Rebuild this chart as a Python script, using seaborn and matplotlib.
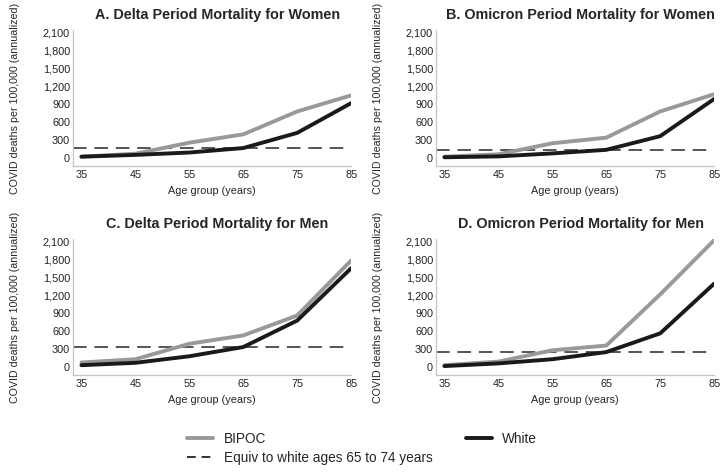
import pandas as pd
import numpy as np
import matplotlib
matplotlib.use("Agg")
import matplotlib.pyplot as plt
import seaborn as sns
from matplotlib.lines import Line2D

ages = [35, 45, 55, 65, 75, 85]

# deaths per 100,000 (annualized)
delta_women_bipoc = [20, 70, 255, 395, 780, 1050]
delta_women_white = [20, 50, 90, 165, 420, 920]
delta_women_equiv = 170

omicron_women_bipoc = [20, 60, 245, 340, 780, 1070]
omicron_women_white = [10, 25, 75, 135, 365, 990]
omicron_women_equiv = 130

delta_men_bipoc = [75, 130, 390, 530, 865, 1790]
delta_men_white = [30, 70, 180, 335, 780, 1660]
delta_men_equiv = 340

omicron_men_bipoc = [30, 90, 280, 360, 1220, 2130]
omicron_men_white = [15, 60, 130, 250, 565, 1400]
omicron_men_equiv = 255

titles = ["A. Delta Period Mortality for Women",
          "B. Omicron Period Mortality for Women",
          "C. Delta Period Mortality for Men",
          "D. Omicron Period Mortality for Men"]
yticks = [0, 300, 600, 900, 1200, 1500, 1800, 2100]

panels = [
    (delta_women_bipoc, delta_women_white, delta_women_equiv),
    (omicron_women_bipoc, omicron_women_white, omicron_women_equiv),
    (delta_men_bipoc, delta_men_white, delta_men_equiv),
    (omicron_men_bipoc, omicron_men_white, omicron_men_equiv),
]

sns.set_style("white")
plt.rcParams['font.family'] = ['Liberation Sans', 'DejaVu Sans']

gray = "#999999"
black = "#1a1a1a"
spine_col = "#c4c4c4"

fig, axes = plt.subplots(2, 2, figsize=(7.28, 4.72), dpi=100,
                         gridspec_kw=dict(left=0.100, right=0.981, top=0.936, bottom=0.2055,
                                          wspace=0.304, hspace=0.541))

for ax, title, (bipoc, white, equiv) in zip(axes.flat, titles, panels):
    df = pd.DataFrame({"Age": ages * 2,
                       "Deaths": bipoc + white,
                       "Group": ["BIPOC"] * len(ages) + ["White"] * len(ages)})
    ax.axhline(equiv, color="#555555", lw=1.4, dashes=(7, 4), zorder=1)
    sns.lineplot(data=df, x="Age", y="Deaths", hue="Group",
                 palette={"BIPOC": gray, "White": black},
                 lw=2.8, ax=ax, legend=False, zorder=3)
    ax.set_xlim(33.4, 85)
    ax.set_ylim(-135, 2145)
    ax.set_xticks(ages)
    ax.set_yticks(yticks)
    ax.set_yticklabels([f"{v:,}" for v in yticks])
    ax.tick_params(length=0, labelsize=7.8, colors="#222222")
    ax.tick_params(axis="y", pad=2)
    ax.tick_params(axis="x", pad=3)
    ax.set_title(title, fontsize=10.4, fontweight="bold", pad=8, x=0.52)
    ax.set_xlabel("Age group (years)", fontsize=7.8, labelpad=4)
    ax.set_ylabel("COVID deaths per 100,000 (annualized)", fontsize=7.7)
    ax.yaxis.set_label_coords(-0.19, 0.5)
    sns.despine(ax=ax)
    for s in ["left", "bottom"]:
        ax.spines[s].set_color(spine_col)
        ax.spines[s].set_linewidth(0.9)

handles = [Line2D([], [], color=gray, lw=2.8),
           Line2D([], [], color="#333333", lw=1.4, dashes=(4.5, 3)),
           Line2D([], [], color=black, lw=2.8)]
labels = ["BIPOC", "Equiv to white ages 65 to 74 years", "White"]
fig.legend(handles, labels, ncol=2, loc="upper left", bbox_to_anchor=(0.25, 0.097),
           frameon=False, fontsize=9.8, handlelength=1.9, handletextpad=0.75,
           columnspacing=2.5, labelspacing=0.4, borderaxespad=0)

plt.savefig("out.png", dpi=100)
